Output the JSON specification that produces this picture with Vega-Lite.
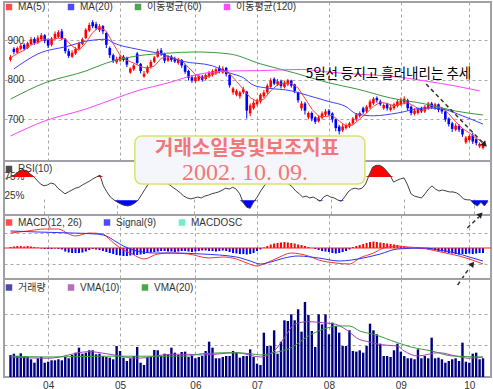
{
"$schema": "https://vega.github.io/schema/vega-lite/v6.json",
"background": "white",
"padding": {"left": 2, "top": 1, "right": 4, "bottom": 0},
"spacing": 0,
"bounds": "flush",
"resolve": {"scale": {"color": "independent", "stroke": "independent"}, "legend": {"color": "independent", "stroke": "independent"}},
"config": {
 "view": {"stroke": "#a0a0a8", "strokeWidth": 2},
 "axis": {"domain": false, "ticks": false, "tickSize": 0, "grid": true, "gridDash": [3, 3], "gridColor": "#a8a8a8", "gridWidth": 1, "labelFont": "Liberation Sans", "labelFontSize": 10, "labelColor": "#333333", "labelFlush": false, "labelOverlap": false},
 "legend": {"orient": "none", "legendX": 0, "direction": "horizontal", "symbolType": "square", "symbolSize": 42, "symbolStrokeWidth": 0, "labelFont": "Liberation Sans, Noto Sans CJK KR", "labelFontSize": 10, "labelColor": "#333333", "columnPadding": 20, "labelOffset": 4, "padding": 0}
},
"datasets": {
 "d": [
{"i":0,"o":850,"h":862,"l":846,"c":858,"v":698,"r":72,"m":1},
{"i":1,"o":878,"h":882,"l":864,"c":870,"v":740,"r":74,"m":1.5},
{"i":2,"o":868,"h":884,"l":865,"c":880,"v":667,"r":76,"m":2},
{"i":3,"o":878,"h":890,"l":874,"c":886,"v":752,"r":82,"m":2},
{"i":4,"o":888,"h":892,"l":874,"c":878,"v":635,"r":88,"m":1.5},
{"i":5,"o":880,"h":896,"l":877,"c":892,"v":635,"r":91,"m":2},
{"i":6,"o":890,"h":908,"l":886,"c":902,"v":562,"r":88,"m":1.5},
{"i":7,"o":903,"h":907,"l":888,"c":893,"v":454,"r":82,"m":1},
{"i":8,"o":894,"h":912,"l":890,"c":906,"v":594,"r":76,"m":0.5},
{"i":9,"o":902,"h":918,"l":898,"c":912,"v":635,"r":68,"m":-0.5},
{"i":10,"o":912,"h":915,"l":892,"c":898,"v":454,"r":60,"m":-1},
{"i":11,"o":900,"h":904,"l":880,"c":886,"v":486,"r":56,"m":-1},
{"i":12,"o":888,"h":908,"l":884,"c":904,"v":530,"r":58,"m":-1},
{"i":13,"o":904,"h":922,"l":900,"c":916,"v":530,"r":62,"m":-0.5},
{"i":14,"o":908,"h":925,"l":905,"c":920,"v":562,"r":60,"m":-1},
{"i":15,"o":922,"h":928,"l":900,"c":905,"v":530,"r":51,"m":-1.5},
{"i":16,"o":902,"h":905,"l":866,"c":872,"v":635,"r":45,"m":-3.5},
{"i":17,"o":872,"h":878,"l":855,"c":860,"v":594,"r":39,"m":-4.5},
{"i":18,"o":858,"h":874,"l":855,"c":868,"v":698,"r":43,"m":-5},
{"i":19,"o":866,"h":882,"l":863,"c":878,"v":772,"r":47,"m":-5},
{"i":20,"o":878,"h":896,"l":875,"c":892,"v":931,"r":51,"m":-5},
{"i":21,"o":890,"h":906,"l":887,"c":902,"v":740,"r":53,"m":-4.5},
{"i":22,"o":905,"h":930,"l":902,"c":926,"v":772,"r":58,"m":-3.5},
{"i":23,"o":924,"h":944,"l":920,"c":938,"v":848,"r":62,"m":-2},
{"i":24,"o":945,"h":950,"l":930,"c":935,"v":848,"r":66,"m":-1},
{"i":25,"o":940,"h":946,"l":925,"c":930,"v":720,"r":71,"m":-1.5},
{"i":26,"o":925,"h":940,"l":920,"c":935,"v":740,"r":75,"m":-2},
{"i":27,"o":935,"h":938,"l":915,"c":922,"v":667,"r":79,"m":-3},
{"i":28,"o":918,"h":920,"l":880,"c":888,"v":635,"r":56,"m":-4},
{"i":29,"o":880,"h":884,"l":855,"c":862,"v":614,"r":43,"m":-5},
{"i":30,"o":862,"h":866,"l":842,"c":848,"v":562,"r":32,"m":-6},
{"i":31,"o":844,"h":858,"l":840,"c":852,"v":984,"r":26,"m":-7},
{"i":32,"o":848,"h":863,"l":845,"c":858,"v":825,"r":21,"m":-7.5},
{"i":33,"o":858,"h":862,"l":846,"c":850,"v":614,"r":17,"m":-8},
{"i":34,"o":855,"h":858,"l":832,"c":838,"v":508,"r":14,"m":-8},
{"i":35,"o":818,"h":831,"l":815,"c":828,"v":594,"r":13,"m":-7.5},
{"i":36,"o":826,"h":840,"l":822,"c":836,"v":667,"r":15,"m":-7},
{"i":37,"o":866,"h":870,"l":838,"c":842,"v":952,"r":19,"m":-7},
{"i":38,"o":840,"h":842,"l":816,"c":822,"v":454,"r":26,"m":-6.5},
{"i":39,"o":808,"h":822,"l":805,"c":815,"v":381,"r":38,"m":-6},
{"i":40,"o":818,"h":836,"l":815,"c":832,"v":635,"r":50,"m":-5},
{"i":41,"o":832,"h":850,"l":828,"c":845,"v":635,"r":62,"m":-4.5},
{"i":42,"o":845,"h":860,"l":842,"c":856,"v":857,"r":71,"m":-4},
{"i":43,"o":858,"h":878,"l":855,"c":872,"v":848,"r":75,"m":-3.5},
{"i":44,"o":874,"h":880,"l":860,"c":864,"v":667,"r":68,"m":-3},
{"i":45,"o":865,"h":868,"l":842,"c":848,"v":740,"r":60,"m":-3},
{"i":46,"o":848,"h":862,"l":845,"c":856,"v":720,"r":62,"m":-3.5},
{"i":47,"o":858,"h":862,"l":845,"c":850,"v":931,"r":58,"m":-3.5},
{"i":48,"o":852,"h":858,"l":842,"c":846,"v":772,"r":52,"m":-4},
{"i":49,"o":842,"h":855,"l":838,"c":850,"v":698,"r":47,"m":-3.5},
{"i":50,"o":850,"h":852,"l":830,"c":836,"v":794,"r":41,"m":-3},
{"i":51,"o":836,"h":840,"l":815,"c":820,"v":805,"r":34,"m":-3},
{"i":52,"o":822,"h":825,"l":798,"c":805,"v":635,"r":30,"m":-3.5},
{"i":53,"o":806,"h":812,"l":792,"c":798,"v":667,"r":28,"m":-4},
{"i":54,"o":796,"h":812,"l":792,"c":806,"v":594,"r":30,"m":-3.5},
{"i":55,"o":800,"h":815,"l":796,"c":810,"v":635,"r":32,"m":-3},
{"i":56,"o":808,"h":812,"l":795,"c":800,"v":667,"r":30,"m":-2.5},
{"i":57,"o":802,"h":816,"l":798,"c":812,"v":825,"r":34,"m":-2.5},
{"i":58,"o":808,"h":822,"l":804,"c":818,"v":1121,"r":36,"m":-3},
{"i":59,"o":812,"h":826,"l":808,"c":822,"v":931,"r":39,"m":-3},
{"i":60,"o":816,"h":830,"l":812,"c":826,"v":594,"r":41,"m":-3.5},
{"i":61,"o":830,"h":836,"l":816,"c":820,"v":594,"r":43,"m":-3},
{"i":62,"o":818,"h":834,"l":815,"c":828,"v":635,"r":47,"m":-2.5},
{"i":63,"o":830,"h":832,"l":808,"c":814,"v":667,"r":51,"m":-3},
{"i":64,"o":812,"h":814,"l":780,"c":786,"v":667,"r":49,"m":-4},
{"i":65,"o":768,"h":782,"l":762,"c":778,"v":825,"r":53,"m":-5},
{"i":66,"o":762,"h":776,"l":758,"c":772,"v":772,"r":49,"m":-5.5},
{"i":67,"o":758,"h":772,"l":752,"c":768,"v":614,"r":39,"m":-6},
{"i":68,"o":768,"h":782,"l":764,"c":776,"v":667,"r":20,"m":-6},
{"i":69,"o":770,"h":772,"l":702,"c":722,"v":667,"r":10,"m":-6.5},
{"i":70,"o":715,"h":740,"l":708,"c":735,"v":878,"r":8,"m":-6},
{"i":71,"o":728,"h":748,"l":724,"c":742,"v":635,"r":22,"m":-5},
{"i":72,"o":738,"h":752,"l":734,"c":748,"v":423,"r":32,"m":-3},
{"i":73,"o":745,"h":766,"l":740,"c":762,"v":381,"r":45,"m":-1.5},
{"i":74,"o":758,"h":774,"l":754,"c":768,"v":1407,"r":56,"m":0.5},
{"i":75,"o":768,"h":790,"l":764,"c":785,"v":984,"r":64,"m":2},
{"i":76,"o":782,"h":804,"l":778,"c":798,"v":984,"r":71,"m":3.5},
{"i":77,"o":802,"h":806,"l":786,"c":790,"v":1482,"r":73,"m":4.5},
{"i":78,"o":788,"h":802,"l":784,"c":796,"v":740,"r":66,"m":5},
{"i":79,"o":796,"h":800,"l":778,"c":784,"v":1121,"r":62,"m":5.5},
{"i":80,"o":782,"h":798,"l":778,"c":792,"v":1799,"r":64,"m":6},
{"i":81,"o":788,"h":802,"l":784,"c":798,"v":1778,"r":60,"m":5.5},
{"i":82,"o":798,"h":800,"l":780,"c":785,"v":1990,"r":54,"m":5},
{"i":83,"o":788,"h":790,"l":766,"c":772,"v":1799,"r":45,"m":4.5},
{"i":84,"o":768,"h":770,"l":742,"c":748,"v":2149,"r":39,"m":3.5},
{"i":85,"o":728,"h":746,"l":722,"c":740,"v":1439,"r":32,"m":3},
{"i":86,"o":740,"h":744,"l":712,"c":722,"v":2381,"r":34,"m":2},
{"i":87,"o":705,"h":720,"l":700,"c":716,"v":1969,"r":30,"m":1},
{"i":88,"o":716,"h":720,"l":695,"c":702,"v":1460,"r":32,"m":0},
{"i":89,"o":705,"h":708,"l":688,"c":694,"v":952,"r":28,"m":-1},
{"i":90,"o":695,"h":710,"l":692,"c":705,"v":1990,"r":23,"m":-2},
{"i":91,"o":704,"h":720,"l":700,"c":715,"v":1672,"r":32,"m":-3},
{"i":92,"o":712,"h":726,"l":708,"c":720,"v":1990,"r":36,"m":-3.5},
{"i":93,"o":722,"h":726,"l":708,"c":712,"v":1355,"r":32,"m":-4},
{"i":94,"o":715,"h":718,"l":692,"c":700,"v":1725,"r":30,"m":-5},
{"i":95,"o":700,"h":702,"l":670,"c":678,"v":1619,"r":26,"m":-5.5},
{"i":96,"o":682,"h":686,"l":662,"c":670,"v":1407,"r":23,"m":-5},
{"i":97,"o":672,"h":688,"l":668,"c":682,"v":984,"r":32,"m":-4},
{"i":98,"o":678,"h":690,"l":674,"c":686,"v":984,"r":43,"m":-3},
{"i":99,"o":682,"h":694,"l":678,"c":690,"v":1482,"r":49,"m":-1.5},
{"i":100,"o":690,"h":706,"l":686,"c":702,"v":825,"r":51,"m":1},
{"i":101,"o":700,"h":716,"l":696,"c":712,"v":805,"r":49,"m":2},
{"i":102,"o":708,"h":720,"l":704,"c":716,"v":848,"r":51,"m":3},
{"i":103,"o":728,"h":732,"l":714,"c":718,"v":772,"r":60,"m":4},
{"i":104,"o":720,"h":736,"l":716,"c":732,"v":984,"r":79,"m":5},
{"i":105,"o":730,"h":750,"l":726,"c":745,"v":1693,"r":96,"m":6},
{"i":106,"o":740,"h":756,"l":736,"c":752,"v":1482,"r":100,"m":6.5},
{"i":107,"o":754,"h":758,"l":742,"c":748,"v":1355,"r":100,"m":6},
{"i":108,"o":745,"h":750,"l":734,"c":738,"v":1058,"r":96,"m":5.5},
{"i":109,"o":728,"h":740,"l":724,"c":736,"v":667,"r":88,"m":5},
{"i":110,"o":738,"h":742,"l":722,"c":728,"v":667,"r":79,"m":4.5},
{"i":111,"o":724,"h":736,"l":720,"c":730,"v":635,"r":64,"m":4},
{"i":112,"o":728,"h":742,"l":724,"c":738,"v":848,"r":68,"m":3.5},
{"i":113,"o":734,"h":750,"l":730,"c":745,"v":1058,"r":71,"m":3},
{"i":114,"o":738,"h":755,"l":734,"c":748,"v":805,"r":73,"m":2},
{"i":115,"o":742,"h":758,"l":738,"c":752,"v":667,"r":58,"m":1.5},
{"i":116,"o":748,"h":752,"l":722,"c":728,"v":594,"r":39,"m":1},
{"i":117,"o":732,"h":735,"l":710,"c":716,"v":594,"r":34,"m":0.5},
{"i":118,"o":714,"h":728,"l":710,"c":722,"v":562,"r":32,"m":0},
{"i":119,"o":716,"h":730,"l":712,"c":726,"v":878,"r":30,"m":-0.5},
{"i":120,"o":728,"h":732,"l":716,"c":720,"v":594,"r":39,"m":-1},
{"i":121,"o":720,"h":736,"l":716,"c":732,"v":667,"r":49,"m":-1},
{"i":122,"o":728,"h":744,"l":724,"c":740,"v":594,"r":56,"m":-1.5},
{"i":123,"o":740,"h":744,"l":726,"c":730,"v":1248,"r":49,"m":-1.5},
{"i":124,"o":728,"h":742,"l":724,"c":738,"v":594,"r":45,"m":-2},
{"i":125,"o":738,"h":740,"l":718,"c":724,"v":614,"r":47,"m":-3},
{"i":126,"o":726,"h":730,"l":714,"c":720,"v":562,"r":45,"m":-3.5},
{"i":127,"o":720,"h":722,"l":694,"c":700,"v":454,"r":43,"m":-4.5},
{"i":128,"o":702,"h":705,"l":682,"c":688,"v":508,"r":43,"m":-5},
{"i":129,"o":690,"h":694,"l":668,"c":676,"v":562,"r":41,"m":-5.5},
{"i":130,"o":674,"h":690,"l":670,"c":684,"v":594,"r":36,"m":-6},
{"i":131,"o":684,"h":688,"l":668,"c":674,"v":508,"r":28,"m":-6.5},
{"i":132,"o":676,"h":678,"l":656,"c":662,"v":1090,"r":26,"m":-6},
{"i":133,"o":642,"h":658,"l":638,"c":654,"v":486,"r":26,"m":-6},
{"i":134,"o":648,"h":662,"l":644,"c":658,"v":454,"r":17,"m":-5.5},
{"i":135,"o":660,"h":666,"l":638,"c":644,"v":740,"r":13,"m":-6},
{"i":136,"o":650,"h":654,"l":634,"c":640,"v":772,"r":21,"m":-5.5},
{"i":137,"o":632,"h":642,"l":628,"c":638,"v":562,"r":13,"m":-5},
{"i":138,"o":628,"h":640,"l":624,"c":636,"v":594,"r":23,"m":-5}
 ],
 "ma": [
{"s":"MA(5)","i":0,"p":855},{"s":"MA(5)","i":2,"p":866},{"s":"MA(5)","i":4,"p":874},{"s":"MA(5)","i":6,"p":888},{"s":"MA(5)","i":8,"p":894},{"s":"MA(5)","i":10,"p":902},{"s":"MA(5)","i":12,"p":901},{"s":"MA(5)","i":14,"p":905},{"s":"MA(5)","i":16,"p":903},{"s":"MA(5)","i":18,"p":885},{"s":"MA(5)","i":20,"p":874},{"s":"MA(5)","i":22,"p":893},{"s":"MA(5)","i":24,"p":919},{"s":"MA(5)","i":26,"p":933},{"s":"MA(5)","i":28,"p":922},{"s":"MA(5)","i":30,"p":891},{"s":"MA(5)","i":32,"p":862},{"s":"MA(5)","i":34,"p":849},{"s":"MA(5)","i":36,"p":842},{"s":"MA(5)","i":38,"p":833},{"s":"MA(5)","i":40,"p":829},{"s":"MA(5)","i":42,"p":834},{"s":"MA(5)","i":44,"p":854},{"s":"MA(5)","i":46,"p":859},{"s":"MA(5)","i":48,"p":853},{"s":"MA(5)","i":50,"p":848},{"s":"MA(5)","i":52,"p":831},{"s":"MA(5)","i":54,"p":813},{"s":"MA(5)","i":56,"p":804},{"s":"MA(5)","i":58,"p":809},{"s":"MA(5)","i":60,"p":816},{"s":"MA(5)","i":62,"p":823},{"s":"MA(5)","i":64,"p":815},{"s":"MA(5)","i":66,"p":796},{"s":"MA(5)","i":68,"p":776},{"s":"MA(5)","i":70,"p":755},{"s":"MA(5)","i":72,"p":745},{"s":"MA(5)","i":74,"p":751},{"s":"MA(5)","i":76,"p":772},{"s":"MA(5)","i":78,"p":787},{"s":"MA(5)","i":80,"p":792},{"s":"MA(5)","i":82,"p":791},{"s":"MA(5)","i":84,"p":779},{"s":"MA(5)","i":86,"p":753},{"s":"MA(5)","i":88,"p":726},{"s":"MA(5)","i":90,"p":708},{"s":"MA(5)","i":92,"p":707},{"s":"MA(5)","i":94,"p":710},{"s":"MA(5)","i":96,"p":696},{"s":"MA(5)","i":98,"p":683},{"s":"MA(5)","i":100,"p":686},{"s":"MA(5)","i":102,"p":701},{"s":"MA(5)","i":104,"p":716},{"s":"MA(5)","i":106,"p":733},{"s":"MA(5)","i":108,"p":743},{"s":"MA(5)","i":110,"p":740},{"s":"MA(5)","i":112,"p":734},{"s":"MA(5)","i":114,"p":738},{"s":"MA(5)","i":116,"p":742},{"s":"MA(5)","i":118,"p":733},{"s":"MA(5)","i":120,"p":722},{"s":"MA(5)","i":122,"p":728},{"s":"MA(5)","i":124,"p":732},{"s":"MA(5)","i":126,"p":730},{"s":"MA(5)","i":128,"p":714},{"s":"MA(5)","i":130,"p":694},{"s":"MA(5)","i":132,"p":677},{"s":"MA(5)","i":134,"p":666},{"s":"MA(5)","i":136,"p":652},{"s":"MA(5)","i":138,"p":643},
{"s":"MA(20)","i":1,"p":827},{"s":"MA(20)","i":8,"p":865},{"s":"MA(20)","i":17,"p":885},{"s":"MA(20)","i":22,"p":897},{"s":"MA(20)","i":28,"p":902},{"s":"MA(20)","i":30,"p":893},{"s":"MA(20)","i":37,"p":877},{"s":"MA(20)","i":44,"p":865},{"s":"MA(20)","i":50,"p":847},{"s":"MA(20)","i":59,"p":835},{"s":"MA(20)","i":64,"p":817},{"s":"MA(20)","i":68,"p":805},{"s":"MA(20)","i":71,"p":786},{"s":"MA(20)","i":75,"p":779},{"s":"MA(20)","i":82,"p":772},{"s":"MA(20)","i":87,"p":760},{"s":"MA(20)","i":93,"p":745},{"s":"MA(20)","i":98,"p":732},{"s":"MA(20)","i":101,"p":714},{"s":"MA(20)","i":106,"p":709},{"s":"MA(20)","i":113,"p":716},{"s":"MA(20)","i":121,"p":729},{"s":"MA(20)","i":126,"p":726},{"s":"MA(20)","i":132,"p":709},{"s":"MA(20)","i":138,"p":688},
{"s":"이동평균(60)","i":0,"p":751},{"s":"이동평균(60)","i":10,"p":792},{"s":"이동평균(60)","i":22,"p":822},{"s":"이동평균(60)","i":28,"p":842},{"s":"이동평균(60)","i":37,"p":860},{"s":"이동평균(60)","i":46,"p":867},{"s":"이동평균(60)","i":54,"p":870},{"s":"이동평균(60)","i":64,"p":865},{"s":"이동평균(60)","i":73,"p":840},{"s":"이동평균(60)","i":83,"p":817},{"s":"이동평균(60)","i":93,"p":792},{"s":"이동평균(60)","i":101,"p":777},{"s":"이동평균(60)","i":111,"p":754},{"s":"이동평균(60)","i":121,"p":739},{"s":"이동평균(60)","i":130,"p":721},{"s":"이동평균(60)","i":138,"p":711},
{"s":"이동평균(120)","i":0,"p":658},{"s":"이동평균(120)","i":10,"p":696},{"s":"이동평균(120)","i":22,"p":726},{"s":"이동평균(120)","i":31,"p":754},{"s":"이동평균(120)","i":37,"p":772},{"s":"이동평균(120)","i":46,"p":792},{"s":"이동평균(120)","i":54,"p":812},{"s":"이동평균(120)","i":64,"p":822},{"s":"이동평균(120)","i":73,"p":823},{"s":"이동평균(120)","i":85,"p":826},{"s":"이동평균(120)","i":92,"p":820},{"s":"이동평균(120)","i":101,"p":814},{"s":"이동평균(120)","i":111,"p":809},{"s":"이동평균(120)","i":121,"p":797},{"s":"이동평균(120)","i":130,"p":784},{"s":"이동평균(120)","i":137,"p":772}
 ],
 "ml": [
{"s":"MACD(12, 26)","i":0,"v":15},{"s":"MACD(12, 26)","i":5,"v":17},{"s":"MACD(12, 26)","i":10,"v":19},{"s":"MACD(12, 26)","i":14,"v":19},{"s":"MACD(12, 26)","i":17,"v":14},{"s":"MACD(12, 26)","i":19,"v":12},{"s":"MACD(12, 26)","i":23,"v":15},{"s":"MACD(12, 26)","i":27,"v":14},{"s":"MACD(12, 26)","i":28.5,"v":10},{"s":"MACD(12, 26)","i":30.5,"v":4},{"s":"MACD(12, 26)","i":33,"v":-2},{"s":"MACD(12, 26)","i":35,"v":-5},{"s":"MACD(12, 26)","i":39,"v":-11},{"s":"MACD(12, 26)","i":43,"v":-6},{"s":"MACD(12, 26)","i":47,"v":-5},{"s":"MACD(12, 26)","i":52,"v":-6},{"s":"MACD(12, 26)","i":58,"v":-10},{"s":"MACD(12, 26)","i":62,"v":-9},{"s":"MACD(12, 26)","i":66,"v":-11},{"s":"MACD(12, 26)","i":69,"v":-15},{"s":"MACD(12, 26)","i":72,"v":-18},{"s":"MACD(12, 26)","i":74,"v":-16},{"s":"MACD(12, 26)","i":78,"v":-10},{"s":"MACD(12, 26)","i":82,"v":-5},{"s":"MACD(12, 26)","i":87,"v":-8},{"s":"MACD(12, 26)","i":90,"v":-12},{"s":"MACD(12, 26)","i":95,"v":-15},{"s":"MACD(12, 26)","i":99,"v":-16},{"s":"MACD(12, 26)","i":102,"v":-10},{"s":"MACD(12, 26)","i":106,"v":-5},{"s":"MACD(12, 26)","i":109,"v":0},{"s":"MACD(12, 26)","i":113,"v":2},{"s":"MACD(12, 26)","i":116,"v":1},{"s":"MACD(12, 26)","i":120,"v":0},{"s":"MACD(12, 26)","i":123,"v":-2},{"s":"MACD(12, 26)","i":127,"v":-5},{"s":"MACD(12, 26)","i":131,"v":-8},{"s":"MACD(12, 26)","i":134,"v":-11},{"s":"MACD(12, 26)","i":138,"v":-16},
{"s":"Signal(9)","i":0,"v":17},{"s":"Signal(9)","i":8,"v":16},{"s":"Signal(9)","i":18,"v":15},{"s":"Signal(9)","i":25,"v":14},{"s":"Signal(9)","i":28,"v":12},{"s":"Signal(9)","i":30.5,"v":7},{"s":"Signal(9)","i":33,"v":2},{"s":"Signal(9)","i":37,"v":-3},{"s":"Signal(9)","i":42,"v":-5},{"s":"Signal(9)","i":47,"v":-5},{"s":"Signal(9)","i":56,"v":-6},{"s":"Signal(9)","i":66,"v":-9},{"s":"Signal(9)","i":70,"v":-13},{"s":"Signal(9)","i":73,"v":-16},{"s":"Signal(9)","i":76,"v":-14},{"s":"Signal(9)","i":80,"v":-10},{"s":"Signal(9)","i":84,"v":-8},{"s":"Signal(9)","i":90,"v":-10},{"s":"Signal(9)","i":96,"v":-13},{"s":"Signal(9)","i":103,"v":-10},{"s":"Signal(9)","i":108,"v":-6},{"s":"Signal(9)","i":113,"v":-1},{"s":"Signal(9)","i":121,"v":0},{"s":"Signal(9)","i":125,"v":-2},{"s":"Signal(9)","i":130,"v":-5},{"s":"Signal(9)","i":134,"v":-9},{"s":"Signal(9)","i":138,"v":-13}
 ],
 "vma": [
{"s":"VMA(10)","i":0,"v":635},{"s":"VMA(10)","i":11,"v":594},{"s":"VMA(10)","i":23,"v":805},{"s":"VMA(10)","i":28,"v":740},{"s":"VMA(10)","i":37,"v":594},{"s":"VMA(10)","i":47,"v":720},{"s":"VMA(10)","i":52,"v":720},{"s":"VMA(10)","i":56,"v":698},{"s":"VMA(10)","i":66,"v":772},{"s":"VMA(10)","i":73,"v":635},{"s":"VMA(10)","i":77,"v":825},{"s":"VMA(10)","i":80,"v":1248},{"s":"VMA(10)","i":83,"v":1672},{"s":"VMA(10)","i":87,"v":1757},{"s":"VMA(10)","i":91,"v":1725},{"s":"VMA(10)","i":95,"v":1672},{"s":"VMA(10)","i":98,"v":1503},{"s":"VMA(10)","i":102,"v":1185},{"s":"VMA(10)","i":104,"v":1132},{"s":"VMA(10)","i":108,"v":1026},{"s":"VMA(10)","i":113,"v":984},{"s":"VMA(10)","i":115,"v":825},{"s":"VMA(10)","i":119,"v":667},{"s":"VMA(10)","i":125,"v":772},{"s":"VMA(10)","i":130,"v":667},{"s":"VMA(10)","i":134,"v":594},{"s":"VMA(10)","i":138,"v":635},
{"s":"VMA(20)","i":0,"v":667},{"s":"VMA(20)","i":11,"v":635},{"s":"VMA(20)","i":28,"v":660},{"s":"VMA(20)","i":37,"v":660},{"s":"VMA(20)","i":51,"v":660},{"s":"VMA(20)","i":56,"v":740},{"s":"VMA(20)","i":65,"v":772},{"s":"VMA(20)","i":70,"v":740},{"s":"VMA(20)","i":73,"v":700},{"s":"VMA(20)","i":77,"v":772},{"s":"VMA(20)","i":82,"v":931},{"s":"VMA(20)","i":87,"v":1300},{"s":"VMA(20)","i":91,"v":1503},{"s":"VMA(20)","i":96,"v":1619},{"s":"VMA(20)","i":99,"v":1619},{"s":"VMA(20)","i":102,"v":1460},{"s":"VMA(20)","i":106,"v":1355},{"s":"VMA(20)","i":113,"v":1090},{"s":"VMA(20)","i":117,"v":952},{"s":"VMA(20)","i":123,"v":825},{"s":"VMA(20)","i":129,"v":667},{"s":"VMA(20)","i":138,"v":635}
 ]
},
"vconcat": [
 {
  "width": 487, "height": 159,
  "layer": [
   {"data": {"name": "ma"}, "mark": {"type": "point", "shape": "square", "filled": true, "size": 0},
    "encoding": {"color": {"field": "s", "type": "nominal", "scale": {"domain": ["MA(5)", "MA(20)", "이동평균(60)", "이동평균(120)"], "range": ["#ff0000", "#0000ff", "#008000", "#ff00ff"]}, "legend": {"title": null, "legendY": 0}}}},
   {"data": {"name": "d"}, "mark": {"type": "rule", "strokeWidth": 1},
    "encoding": {
     "x": {"field": "i", "type": "quantitative", "scale": {"domain": [-0.43, 138.87], "nice": false, "zero": false}, "axis": {"values": [11, 32, 54, 72, 93, 114, 134], "labels": false, "title": null}},
     "y": {"field": "l", "type": "quantitative", "scale": {"domain": [595, 996], "nice": false, "zero": false}, "axis": {"values": [700, 800, 900], "labelAlign": "left", "labelPadding": -3, "labelBaseline": "middle", "title": null}},
     "y2": {"field": "h"},
     "color": {"condition": {"test": "datum.c >= datum.o", "value": "#ff0000"}, "value": "#0000ff"}}},
   {"data": {"name": "d"}, "mark": {"type": "bar", "size": 2.6},
    "encoding": {
     "x": {"field": "i", "type": "quantitative", "scale": {"domain": [-0.43, 138.87], "nice": false, "zero": false}},
     "y": {"field": "o", "type": "quantitative", "scale": {"domain": [595, 996], "nice": false, "zero": false}},
     "y2": {"field": "c"},
     "color": {"condition": {"test": "datum.c >= datum.o", "value": "#ff0000"}, "value": "#0000ff"}}},
   {"data": {"name": "ma"}, "transform": [{"filter": "datum.s == 'MA(5)'"}], "mark": {"type": "line", "strokeWidth": 1},
    "encoding": {
     "x": {"field": "i", "type": "quantitative", "scale": {"domain": [-0.43, 138.87], "nice": false, "zero": false}},
     "y": {"field": "p", "type": "quantitative", "scale": {"domain": [595, 996], "nice": false, "zero": false}},
     "stroke": {"field": "s", "type": "nominal", "scale": {"domain": ["MA(5)", "MA(20)", "이동평균(60)", "이동평균(120)"], "range": ["#ff4040", "#4040ff", "#3c963c", "#ff44ff"]}, "legend": null}}},
   {"data": {"name": "ma"}, "transform": [{"filter": "datum.s != 'MA(5)'"}], "mark": {"type": "line", "strokeWidth": 1, "interpolate": "monotone"},
    "encoding": {
     "x": {"field": "i", "type": "quantitative", "scale": {"domain": [-0.43, 138.87], "nice": false, "zero": false}},
     "y": {"field": "p", "type": "quantitative", "scale": {"domain": [595, 996], "nice": false, "zero": false}},
     "stroke": {"field": "s", "type": "nominal", "scale": {"domain": ["MA(5)", "MA(20)", "이동평균(60)", "이동평균(120)"], "range": ["#ff4040", "#4040ff", "#3c963c", "#ff44ff"]}, "legend": null}}},
   {"data": {"values": [{"i": 86.2, "p": 814, "t": "5일선 등지고 흘러내리는 추세"}]}, "mark": {"type": "text", "align": "left", "baseline": "middle", "font": "Noto Sans CJK KR", "fontSize": 13.5, "color": "#000000"},
    "encoding": {
     "x": {"field": "i", "type": "quantitative", "scale": {"domain": [-0.43, 138.87], "nice": false, "zero": false}},
     "y": {"field": "p", "type": "quantitative", "scale": {"domain": [595, 996], "nice": false, "zero": false}},
     "text": {"field": "t"}}},
   {"data": {"values": [{"i": 121.4, "p": 789}, {"i": 137.8, "p": 642}]}, "mark": {"type": "line", "strokeDash": [4, 3], "strokeWidth": 1.5, "color": "#333333"},
    "encoding": {
     "x": {"field": "i", "type": "quantitative", "scale": {"domain": [-0.43, 138.87], "nice": false, "zero": false}},
     "y": {"field": "p", "type": "quantitative", "scale": {"domain": [595, 996], "nice": false, "zero": false}}}},
   {"data": {"values": [{"i": 138.5, "p": 636}]}, "mark": {"type": "point", "shape": "triangle-up", "filled": true, "size": 45, "angle": 135, "color": "#222222", "opacity": 1},
    "encoding": {
     "x": {"field": "i", "type": "quantitative", "scale": {"domain": [-0.43, 138.87], "nice": false, "zero": false}},
     "y": {"field": "p", "type": "quantitative", "scale": {"domain": [595, 996], "nice": false, "zero": false}}}}
  ]
 },
 {
  "width": 487, "height": 54,
  "resolve": {"scale": {"y": "independent"}},
  "layer": [
   {"data": {"values": [{"s": "RSI(10)"}]}, "mark": {"type": "point", "shape": "square", "filled": true, "size": 0},
    "encoding": {"color": {"field": "s", "type": "nominal", "scale": {"domain": ["RSI(10)"], "range": ["#000000"]}, "legend": {"title": null, "legendY": 3}}}},
   {"data": {"name": "d"}, "mark": {"type": "area", "color": "#ff0000"},
    "encoding": {
     "x": {"field": "i", "type": "quantitative", "scale": {"domain": [-0.43, 138.87], "nice": false, "zero": false}, "axis": {"values": [11, 32, 54, 72, 93, 114, 134], "labels": false, "title": null}},
     "y": {"field": "r", "type": "quantitative", "scale": {"domain": [75, 109.3], "range": [16, 0], "clamp": true, "nice": false, "zero": false}, "axis": null},
     "y2": {"datum": 75}}},
   {"data": {"name": "d"}, "mark": {"type": "area", "color": "#0000ff"},
    "encoding": {
     "x": {"field": "i", "type": "quantitative", "scale": {"domain": [-0.43, 138.87], "nice": false, "zero": false}},
     "y": {"field": "r", "type": "quantitative", "scale": {"domain": [-6.5, 25], "range": [54, 39.3], "clamp": true, "nice": false, "zero": false}, "axis": null},
     "y2": {"datum": 25}}},
   {"data": {"name": "d"}, "mark": {"type": "line", "strokeWidth": 1, "color": "#404040"},
    "encoding": {
     "x": {"field": "i", "type": "quantitative", "scale": {"domain": [-0.43, 138.87], "nice": false, "zero": false}},
     "y": {"field": "r", "type": "quantitative", "scale": {"domain": [-6.5, 109.3], "nice": false, "zero": false}, "axis": {"values": [25, 50, 75], "labelExpr": "datum.value == 50 ? '' : datum.value + '%'", "labelAlign": "left", "labelPadding": 0, "labelBaseline": {"condition": {"test": "datum.value == 25", "value": "bottom"}, "value": "middle"}, "gridDash": {"condition": {"test": "datum.value == 25", "value": []}, "value": [3, 3]}, "title": null}}}},
   {"data": {"values": [{"a": 37.0, "b": 102.8, "lo": 60, "hi": 163}]}, "mark": {"type": "rect", "cornerRadius": 7, "fill": "#f5f5fc", "stroke": "#d8e46a", "strokeWidth": 1.5},
    "encoding": {
     "x": {"field": "a", "type": "quantitative", "scale": {"domain": [-0.43, 138.87], "nice": false, "zero": false}},
     "x2": {"field": "b"},
     "y": {"field": "lo", "type": "quantitative", "scale": {"domain": [-6.5, 109.3], "nice": false, "zero": false}, "axis": null},
     "y2": {"field": "hi"}}},
   {"data": {"values": [{"i": 69.1, "r": 135, "t": "거래소일봉및보조지표"}]}, "mark": {"type": "text", "align": "center", "baseline": "middle", "font": "Noto Sans CJK KR", "fontSize": 20, "fontWeight": "bold", "color": "#f07878"},
    "encoding": {
     "x": {"field": "i", "type": "quantitative", "scale": {"domain": [-0.43, 138.87], "nice": false, "zero": false}},
     "y": {"field": "r", "type": "quantitative", "scale": {"domain": [-6.5, 109.3], "nice": false, "zero": false}, "axis": null},
     "text": {"field": "t"}}},
   {"data": {"values": [{"i": 68.5, "r": 83.6, "t": "2002. 10. 09."}]}, "mark": {"type": "text", "align": "center", "baseline": "middle", "font": "Liberation Serif", "fontSize": 24, "color": "#f07878"},
    "encoding": {
     "x": {"field": "i", "type": "quantitative", "scale": {"domain": [-0.43, 138.87], "nice": false, "zero": false}},
     "y": {"field": "r", "type": "quantitative", "scale": {"domain": [-6.5, 109.3], "nice": false, "zero": false}, "axis": null},
     "text": {"field": "t"}}}
  ]
 },
 {
  "width": 487, "height": 64,
  "layer": [
   {"data": {"values": [{"s": "MACD(12, 26)"}, {"s": "Signal(9)"}, {"s": "MACDOSC"}]}, "mark": {"type": "point", "shape": "square", "filled": true, "size": 0},
    "encoding": {"color": {"field": "s", "type": "nominal", "scale": {"domain": ["MACD(12, 26)", "Signal(9)", "MACDOSC"], "range": ["#ff0000", "#0000ff", "#33e6b4"]}, "legend": {"title": null, "legendY": 2.5}}}},
   {"data": {"name": "d"}, "mark": {"type": "bar", "size": 2},
    "encoding": {
     "x": {"field": "i", "type": "quantitative", "scale": {"domain": [-0.43, 138.87], "nice": false, "zero": false}, "axis": {"values": [11, 32, 54, 72, 93, 114, 134], "labels": false, "title": null}},
     "y": {"field": "m", "type": "quantitative", "scale": {"domain": [-31, 33], "nice": false, "zero": false}, "axis": {"values": [-15.5, 15.5], "labels": false, "title": null}},
     "y2": {"datum": 0},
     "color": {"condition": {"test": "datum.m > 0", "value": "#ff0000"}, "value": "#0000ff"}}},
   {"data": {"values": [{}]}, "mark": {"type": "rule", "color": "#ff2020", "strokeWidth": 1},
    "encoding": {"y": {"datum": 0}}},
   {"data": {"name": "ml"}, "mark": {"type": "line", "strokeWidth": 1, "interpolate": "monotone"},
    "encoding": {
     "x": {"field": "i", "type": "quantitative", "scale": {"domain": [-0.43, 138.87], "nice": false, "zero": false}},
     "y": {"field": "v", "type": "quantitative", "scale": {"domain": [-31, 33], "nice": false, "zero": false}},
     "stroke": {"field": "s", "type": "nominal", "scale": {"domain": ["MACD(12, 26)", "Signal(9)"], "range": ["#ff3030", "#3030ff"]}, "legend": null}}},
   {"data": {"values": [{"g": "a", "i": 133.4, "v": 20}, {"g": "a", "i": 136.8, "v": 31}, {"g": "b", "i": 130.6, "v": -37}, {"g": "b", "i": 134.0, "v": -20}]}, "mark": {"type": "line", "strokeDash": [4, 3], "strokeWidth": 1.5, "color": "#333333"},
    "encoding": {
     "x": {"field": "i", "type": "quantitative", "scale": {"domain": [-0.43, 138.87], "nice": false, "zero": false}},
     "y": {"field": "v", "type": "quantitative", "scale": {"domain": [-31, 33], "nice": false, "zero": false}},
     "detail": {"field": "g"}}},
   {"data": {"values": [{"i": 137.3, "v": 33.5, "a": 45}, {"i": 134.9, "v": -16, "a": 36}]}, "mark": {"type": "point", "shape": "triangle-up", "filled": true, "size": 40, "color": "#222222", "opacity": 1},
    "encoding": {
     "x": {"field": "i", "type": "quantitative", "scale": {"domain": [-0.43, 138.87], "nice": false, "zero": false}},
     "y": {"field": "v", "type": "quantitative", "scale": {"domain": [-31, 33], "nice": false, "zero": false}},
     "angle": {"field": "a", "type": "quantitative", "scale": null}}}
  ]
 },
 {
  "width": 487, "height": 98,
  "layer": [
   {"data": {"values": [{"s": "거래량"}, {"s": "VMA(10)"}, {"s": "VMA(20)"}]}, "mark": {"type": "point", "shape": "square", "filled": true, "size": 0},
    "encoding": {"color": {"field": "s", "type": "nominal", "scale": {"domain": ["거래량", "VMA(10)", "VMA(20)"], "range": ["#000080", "#993399", "#008000"]}, "legend": {"title": null, "legendY": 3.5}}}},
   {"data": {"name": "d"}, "mark": {"type": "bar", "size": 2.4, "color": "#000080"},
    "encoding": {
     "x": {"field": "i", "type": "quantitative", "scale": {"domain": [-0.43, 138.87], "nice": false, "zero": false}, "axis": {"values": [11, 32, 54, 72, 93, 114, 134], "labelExpr": "['04','05','06','07','08','09','10'][indexof([11,32,54,72,93,114,134], datum.value)]", "labelPadding": 3, "title": null}},
     "y": {"field": "v", "type": "quantitative", "scale": {"domain": [0, 3110], "nice": false}, "axis": {"values": [1000, 2000], "labels": false, "title": null}}}},
   {"data": {"name": "vma"}, "mark": {"type": "line", "strokeWidth": 1, "interpolate": "monotone"},
    "encoding": {
     "x": {"field": "i", "type": "quantitative", "scale": {"domain": [-0.43, 138.87], "nice": false, "zero": false}},
     "y": {"field": "v", "type": "quantitative", "scale": {"domain": [0, 3110], "nice": false}},
     "stroke": {"field": "s", "type": "nominal", "scale": {"domain": ["VMA(10)", "VMA(20)"], "range": ["#a040c0", "#3a9a3a"]}, "legend": null}}}
  ]
 }
]
}
